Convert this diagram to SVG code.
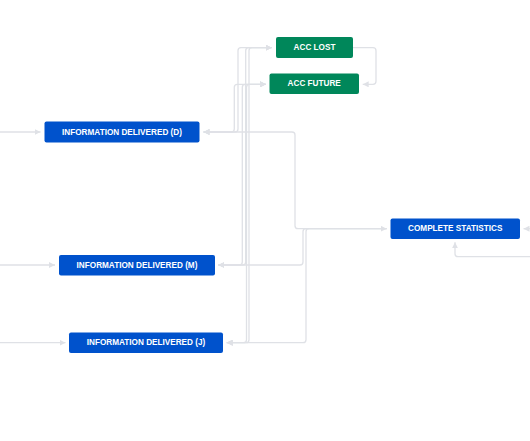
<svg xmlns="http://www.w3.org/2000/svg" width="530" height="441" viewBox="0 0 530 441">
<style>
.e{fill:none;stroke:#dfe1e6;stroke-width:1.3}
.a{marker-end:url(#ar)}
.b{marker-start:url(#ar);marker-end:url(#ar)}
.blue{fill:#0052cc}
.green{fill:#00875a}
text{font-family:"Liberation Sans",Arial,sans-serif;font-size:8.2px;font-weight:bold;fill:#ffffff;text-anchor:middle;dominant-baseline:central}
</style>
<defs>
<marker id="ar" viewBox="0 0 6 6" refX="6" refY="3" markerWidth="6" markerHeight="6" markerUnits="userSpaceOnUse" orient="auto-start-reverse">
<path d="M0,0 L6,3 L0,6 z" fill="#dfe1e6"/>
</marker>
</defs>
<rect width="530" height="441" fill="#ffffff"/>
<g id="connectors">
<path class="e a" d="M0,132 H40.5"/>
<path class="e a" d="M0,265 H55"/>
<path class="e a" d="M0,342.7 H65.5"/>
<path class="e b" d="M203.5,132 H231.3 Q234.3,132 234.3,129 V87.3 Q234.3,84.3 237.3,84.3 H266"/>
<path class="e b" d="M203.5,132 H235 Q238,132 238,129 V50.7 Q238,47.7 241,47.7 H271.7"/>
<path class="e b" d="M218.3,265 H239.3 Q242.3,265 242.3,262 V87.3 Q242.3,84.3 245.3,84.3 H266"/>
<path class="e b" d="M218.3,265 H242.7 Q245.7,265 245.7,262 V50.7 Q245.7,47.7 248.7,47.7 H271.7"/>
<path class="e b" d="M226.7,342.7 H243.5 Q246.5,342.7 246.5,339.7 V87.3 Q246.5,84.3 249.5,84.3 H266"/>
<path class="e b" d="M226.7,342.7 H246 Q249,342.7 249,339.7 V50.7 Q249,47.7 252,47.7 H271.7"/>
<path class="e b" d="M203.5,132 H292 Q295,132 295,135 V225.7 Q295,228.7 298,228.7 H386.7"/>
<path class="e a" d="M386.7,228.7 H306 Q303,228.7 303,231.7 V262 Q303,265 300,265 H218.3"/>
<path class="e a" d="M386.7,228.7 H309 Q306,228.7 306,231.7 V339.7 Q306,342.7 303,342.7 H226.7"/>
<path class="e a" d="M353,47.7 H373 Q376,47.7 376,50.7 V81.3 Q376,84.3 373,84.3 H362.7"/>
<path class="e a" d="M530,228.7 H523.5"/>
<path class="e a" d="M530,256.7 H458 Q455,256.7 455,253.7 V242.3"/>
</g>
<g id="acc-lost"><rect class="green" x="276" y="37" width="77" height="21" rx="2"/><text x="314.5" y="47.5">ACC LOST</text></g>
<g id="acc-future"><rect class="green" x="269.5" y="73.5" width="89.5" height="20.5" rx="2"/><text x="314.2" y="83.8">ACC FUTURE</text></g>
<g id="info-d"><rect class="blue" x="44.5" y="121.5" width="155" height="21" rx="2"/><text x="122" y="132">INFORMATION DELIVERED (D)</text></g>
<g id="info-m"><rect class="blue" x="59" y="255" width="156" height="20.5" rx="2"/><text x="137" y="265.2">INFORMATION DELIVERED (M)</text></g>
<g id="info-j"><rect class="blue" x="69" y="332.5" width="154" height="20.5" rx="2"/><text x="146" y="342.8">INFORMATION DELIVERED (J)</text></g>
<g id="complete-statistics"><rect class="blue" x="390.5" y="218.5" width="129.5" height="20.5" rx="2"/><text x="455.2" y="228.8">COMPLETE STATISTICS</text></g>
</svg>
